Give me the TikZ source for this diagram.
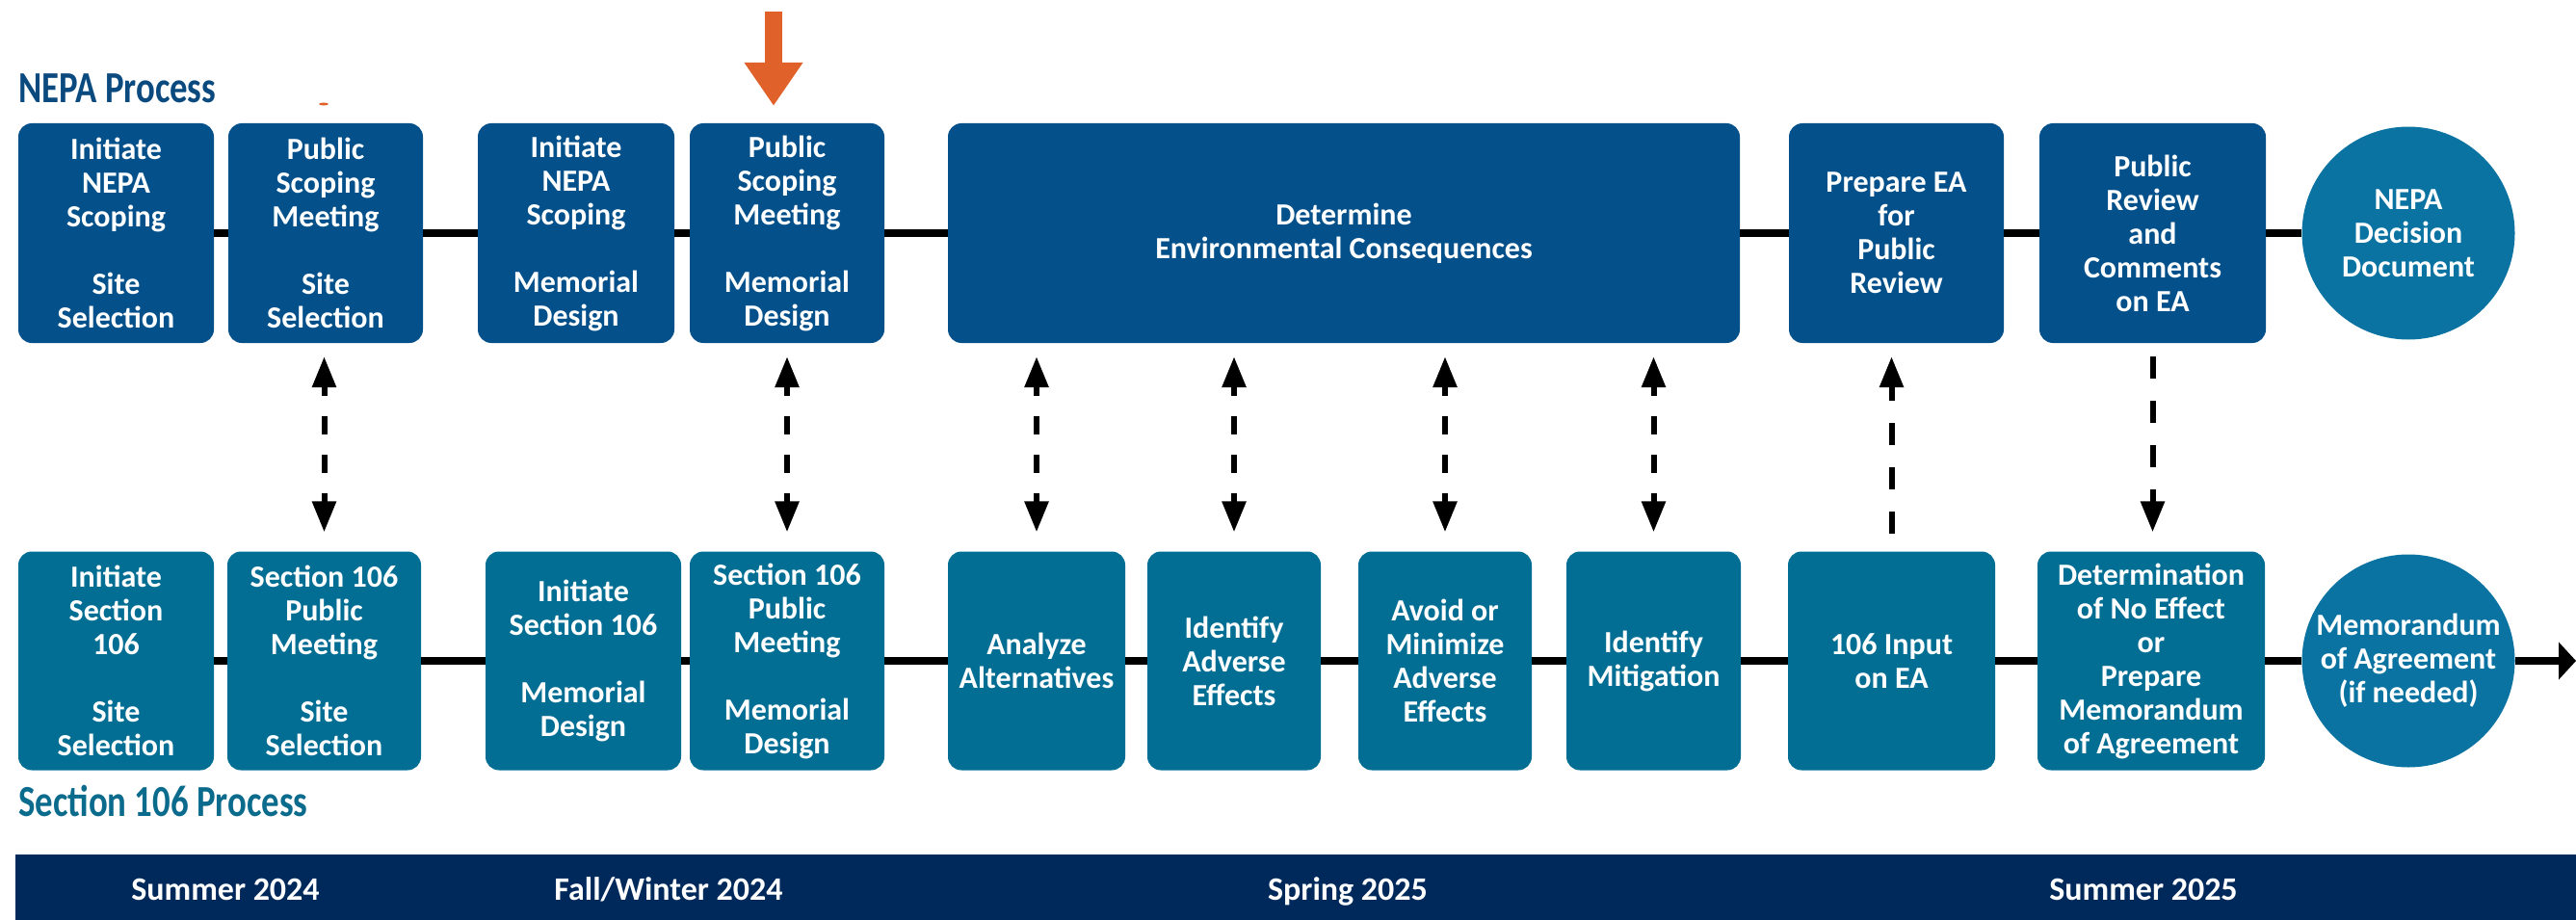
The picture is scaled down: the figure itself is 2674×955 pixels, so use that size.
\documentclass[tikz,border=0pt]{standalone}
\usepackage{fontspec}
\setmainfont{Carlito}
\newfontfamily\titlefont{Carlito}[FakeStretch=0.8]
\usetikzlibrary{arrows.meta}
\definecolor{nepablue}{HTML}{03508A}
\definecolor{secteal}{HTML}{036E94}
\definecolor{circblue}{HTML}{0A73A1}
\definecolor{bandblue}{HTML}{00295B}
\definecolor{nepatitle}{HTML}{0B4A7F}
\definecolor{sectitle}{HTML}{0B6B8D}
\definecolor{orangearr}{HTML}{E0612A}
\begin{document}
\begin{tikzpicture}[x=1pt,y=-1pt,
  box/.style={rounded corners=14pt, inner sep=0pt, align=center, text=white,
    font=\fontsize{32}{35}\selectfont\bfseries},
  topbox/.style={box, fill=nepablue, minimum height=228pt},
  botbox/.style={box, fill=secteal, minimum height=227pt},
  circ/.style={circle, fill=circblue, minimum size=221pt, inner sep=0pt, align=center,
    text=white, font=\fontsize{32}{35}\selectfont\bfseries},
  mainline/.style={line width=8pt, black},
  biarrow/.style={line width=6pt, black,
    {Triangle[length=32pt,width=24pt]}-{Triangle[length=32pt,width=24pt]},
    dash pattern=on 10pt off 21pt on 19pt off 21pt on 19pt off 21pt on 10pt off 40pt},
  uniarrow/.style={line width=6pt, black, -{Triangle[length=32pt,width=24pt]},
    dash pattern=on 23pt off 23pt},
  title/.style={anchor=base west, inner sep=0pt, font=\fontsize{46}{50}\selectfont\titlefont\bfseries},
  period/.style={anchor=base, inner sep=0pt, text=white, font=\fontsize{34}{38}\selectfont\bfseries}
]
\useasboundingbox (0,0) rectangle (2674,955);

% titles
\node[title, text=nepatitle] (nepatitle) at (19,107) {NEPA Process};
\node[title, text=sectitle] (sectitle) at (19,847) {Section 106 Process};

% top row
\node[topbox, minimum width=203pt] (t1) at (120.5,242) {Initiate\\NEPA\\Scoping\\[35pt]Site\\Selection};
\node[topbox, minimum width=202pt] (t2) at (338,242) {Public\\Scoping\\Meeting\\[35pt]Site\\Selection};
\node[topbox, minimum width=204pt] (t3) at (598,242) {Initiate\\NEPA\\Scoping\\[35pt]Memorial\\Design};
\node[topbox, minimum width=202pt] (t4) at (817,242) {Public\\Scoping\\Meeting\\[35pt]Memorial\\Design};
\node[topbox, minimum width=822pt] (t5) at (1395,242) {Determine\\Environmental Consequences};
\node[topbox, minimum width=223pt] (t6) at (1968.5,242) {Prepare EA\\for\\Public\\Review};
\node[topbox, minimum width=235pt] (t7) at (2234.5,242) {Public\\Review\\and\\Comments\\on EA};
\node[circ] (t8) at (2500,242) {NEPA\\Decision\\Document};

% bottom row
\node[botbox, minimum width=203pt] (b1) at (120.5,686) {Initiate\\Section\\106\\[35pt]Site\\Selection};
\node[botbox, minimum width=201pt] (b2) at (336.5,686) {Section 106\\Public\\Meeting\\[35pt]Site\\Selection};
\node[botbox, minimum width=203pt] (b3) at (605.5,686) {Initiate\\Section 106\\[35pt]Memorial\\Design};
\node[botbox, minimum width=202pt] (b4) at (817,686) {Section 106\\Public\\Meeting\\[35pt]Memorial\\Design};
\node[botbox, minimum width=184pt] (b5) at (1076,686) {Analyze\\Alternatives};
\node[botbox, minimum width=180pt] (b6) at (1281,686) {Identify\\Adverse\\Effects};
\node[botbox, minimum width=180pt] (b7) at (1500,686) {Avoid or\\Minimize\\Adverse\\Effects};
\node[botbox, minimum width=181pt] (b8) at (1716.5,686) {Identify\\Mitigation};
\node[botbox, minimum width=215pt] (b9) at (1963.5,686) {106 Input\\on EA};
\node[botbox, minimum width=236pt] (b10) at (2233,686) {Determination\\of No Effect\\or\\Prepare\\Memorandum\\of Agreement};
\node[circ] (b11) at (2500,686) {Memorandum\\of Agreement\\(if needed)};
\coordinate (bend) at (2674,686);

% main lines
\foreach \a/\b in {t1/t2,t2/t3,t3/t4,t4/t5,t5/t6,t6/t7,t7/t8}
  \draw[mainline] (\a) -- (\b);
\foreach \a/\b in {b1/b2,b2/b3,b3/b4,b4/b5,b5/b6,b6/b7,b7/b8,b8/b9,b9/b10,b10/b11}
  \draw[mainline] (\a) -- (\b);
\draw[mainline, -{Triangle[length=18pt,width=38pt]}] (b11) -- (bend);

% dashed connectors
\draw[biarrow, shorten <=20pt, shorten >=14pt] (b2.north) -- (b2.north |- t2.south);
\draw[biarrow, shorten <=20pt, shorten >=14pt] (b4.north) -- (b4.north |- t4.south);
\foreach \b in {b5,b6,b7,b8}
  \draw[biarrow, shorten <=20pt, shorten >=14pt] (\b.north) -- (\b.north |- t5.south);
\draw[uniarrow, shorten <=18pt, shorten >=14pt] (b9.north) -- (b9.north |- t6.south);
\draw[uniarrow, shorten <=14pt, shorten >=20pt] (t7.south) -- (t7.south |- b10.north);

% orange marker arrow
\coordinate (otop) at (803,12);
\draw[line width=18pt, orangearr, -{Triangle[length=45pt,width=58pt]}, shorten >=18pt] (otop) -- (otop |- t4.north);
\fill[orangearr] (336,108) ellipse (5pt and 1.5pt);

% timeline band
\fill[bandblue] (16,887) rectangle (2674,955);
\node[period] (p1) at (234,934) {Summer 2024};
\node[period] (p2) at (694,934) {Fall/Winter 2024};
\node[period] (p3) at (1399,934) {Spring 2025};
\node[period] (p4) at (2225,934) {Summer 2025};
\end{tikzpicture}
\end{document}
